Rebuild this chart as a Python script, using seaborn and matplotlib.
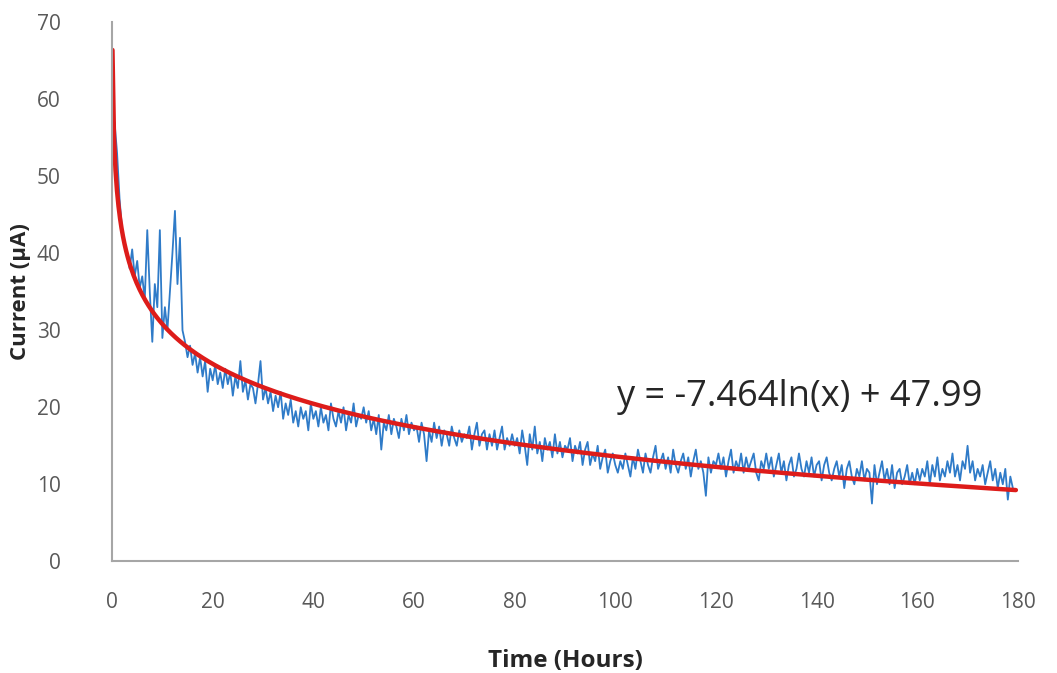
import numpy as np
import pandas as pd
import matplotlib.pyplot as plt
import seaborn as sns

# Current readings (uA), one every half hour
current = [
    57, 53, 47, 43, 41, 40, 38, 40.5, 37, 39, 35.5, 37, 34, 43, 35, 28.5, 36, 33, 43, 29,
    33, 30, 35, 40, 45.5, 36, 42, 30, 28.5, 26.5, 28, 25.5, 27, 24.5, 26.5, 24, 26, 22, 25, 23.5,
    25.5, 23, 24.5, 22.5, 25, 23, 24.5, 21.5, 24, 22.5, 26, 22, 23.5, 21, 23, 22.5, 20.5, 23, 26, 21,
    22.5, 20.5, 22, 19.5, 21.5, 20, 22, 18.5, 20.5, 19, 21, 18, 19.5, 17.5, 20, 18.5, 19.5, 17, 20.5, 18.5,
    19.5, 17.5, 20, 18, 19, 17, 20.5, 18.5, 17.5, 19.5, 18, 20, 17, 19, 18, 20.5, 17.5, 19, 18.5, 20,
    18, 19.5, 17, 18.5, 16.5, 19, 14.5, 18, 17, 19, 16.5, 18.5, 17.5, 16, 18.5, 17, 19, 16.5, 18, 17,
    17.5, 15.5, 18, 16.5, 13, 17, 15.5, 18, 16, 17.5, 15, 17, 16.5, 15, 17.5, 16, 15, 17, 15.5, 16.5,
    16, 17.5, 14.5, 16.5, 18, 15, 16.5, 17, 14.5, 16.5, 15, 17, 14.5, 16, 17.5, 14.5, 16, 15, 16.5, 15,
    16, 14, 17, 15, 12.5, 16.5, 14.5, 17.5, 14, 15.5, 13, 16, 14.5, 15.5, 13.5, 16.5, 14, 15.5, 13.5, 15,
    14.5, 16, 13, 15, 14, 15.5, 12.5, 14.5, 15.5, 12.5, 14, 13, 15, 12, 13.5, 14.5, 11.5, 13, 14, 12.5,
    11.5, 13, 12, 14, 12.5, 11, 13.5, 12, 14.5, 13, 11.5, 14, 12.5, 11.5, 13.5, 15, 12, 13, 14, 12,
    13.5, 11.5, 14.5, 12.5, 11.5, 13, 14, 12, 13.5, 11, 13, 14.5, 12, 13, 11.5, 8.5, 13.5, 11.5, 13, 12.5,
    14, 12, 13.5, 11, 13, 14.5, 11.5, 13, 12, 14, 11.5, 13.5, 12, 13, 14, 11.5, 10.5, 13, 12, 14,
    12, 13.5, 11, 12.5, 14, 11.5, 13, 10.5, 12.5, 13.5, 11, 12, 14, 12, 11, 13, 11.5, 13.5, 11, 12.5,
    13, 10.5, 12.5, 13.5, 11.5, 10.5, 12, 13, 11, 12.5, 9.5, 12, 13, 11, 10, 12, 11, 13, 10.5, 12,
    11.5, 7.5, 12.5, 10, 11.5, 13, 10.5, 12, 10, 12.5, 9.5, 11.5, 12, 10, 11, 12.5, 10, 11.5, 10, 12,
    10.5, 12, 11, 13, 10, 12.5, 11, 13.5, 10.5, 12, 11, 13, 11.5, 14, 11, 12.5, 10.5, 13, 12, 15,
    11.5, 13, 10.5, 12, 11, 12.5, 10, 11.5, 13, 10.5, 12, 9.5, 11.5, 10, 12, 8, 11, 9.5,
]
hours = np.arange(1, len(current) + 1) * 0.5

# logarithmic trendline shown on the chart
slope = -7.464
intercept = 47.99
trend_hours = np.linspace(0.085, 179.6, 600)
trend_current = slope * np.log(trend_hours) + intercept

df = pd.DataFrame({'hours': hours, 'current': current})
trend = pd.DataFrame({'hours': trend_hours, 'current': trend_current})

sns.set_theme(style="white")
plt.rcParams['font.family'] = ['Open Sans', 'DejaVu Sans']

fig = plt.figure(figsize=(10.57, 6.73), dpi=100)
ax = fig.add_axes([0.106, 0.166, 0.857, 0.801])

sns.lineplot(x='hours', y='current', data=df, ax=ax, color='#2F7BC8', linewidth=1.3)
sns.lineplot(x='hours', y='current', data=trend, ax=ax, color='#DD1C1A', linewidth=3.2)

ax.set_xlim(0, 180)
ax.set_ylim(0, 70)
ax.set_xticks(range(0, 181, 20))
ax.set_yticks(range(0, 71, 10))
ax.tick_params(axis='both', length=0, labelsize=15, colors='#595959')
ax.tick_params(axis='y', pad=37)
ax.tick_params(axis='x', pad=22)

for side in ['top', 'right']:
    ax.spines[side].set_visible(False)
for side in ['left', 'bottom']:
    ax.spines[side].set_color('#A6A6A6')
    ax.spines[side].set_linewidth(1.5)

ax.set_xlabel('Time (Hours)', fontsize=17.5, fontweight='bold', color='#262626', labelpad=26)
ax.set_ylabel('Current (µA)', fontsize=16, fontweight='bold', color='#262626', labelpad=4)

ax.text(100.3, 21.3, f'y = {slope}ln(x) + {intercept}', fontsize=26,
        color='#262626', ha='left', va='center')

plt.savefig('out.png', dpi=100)
